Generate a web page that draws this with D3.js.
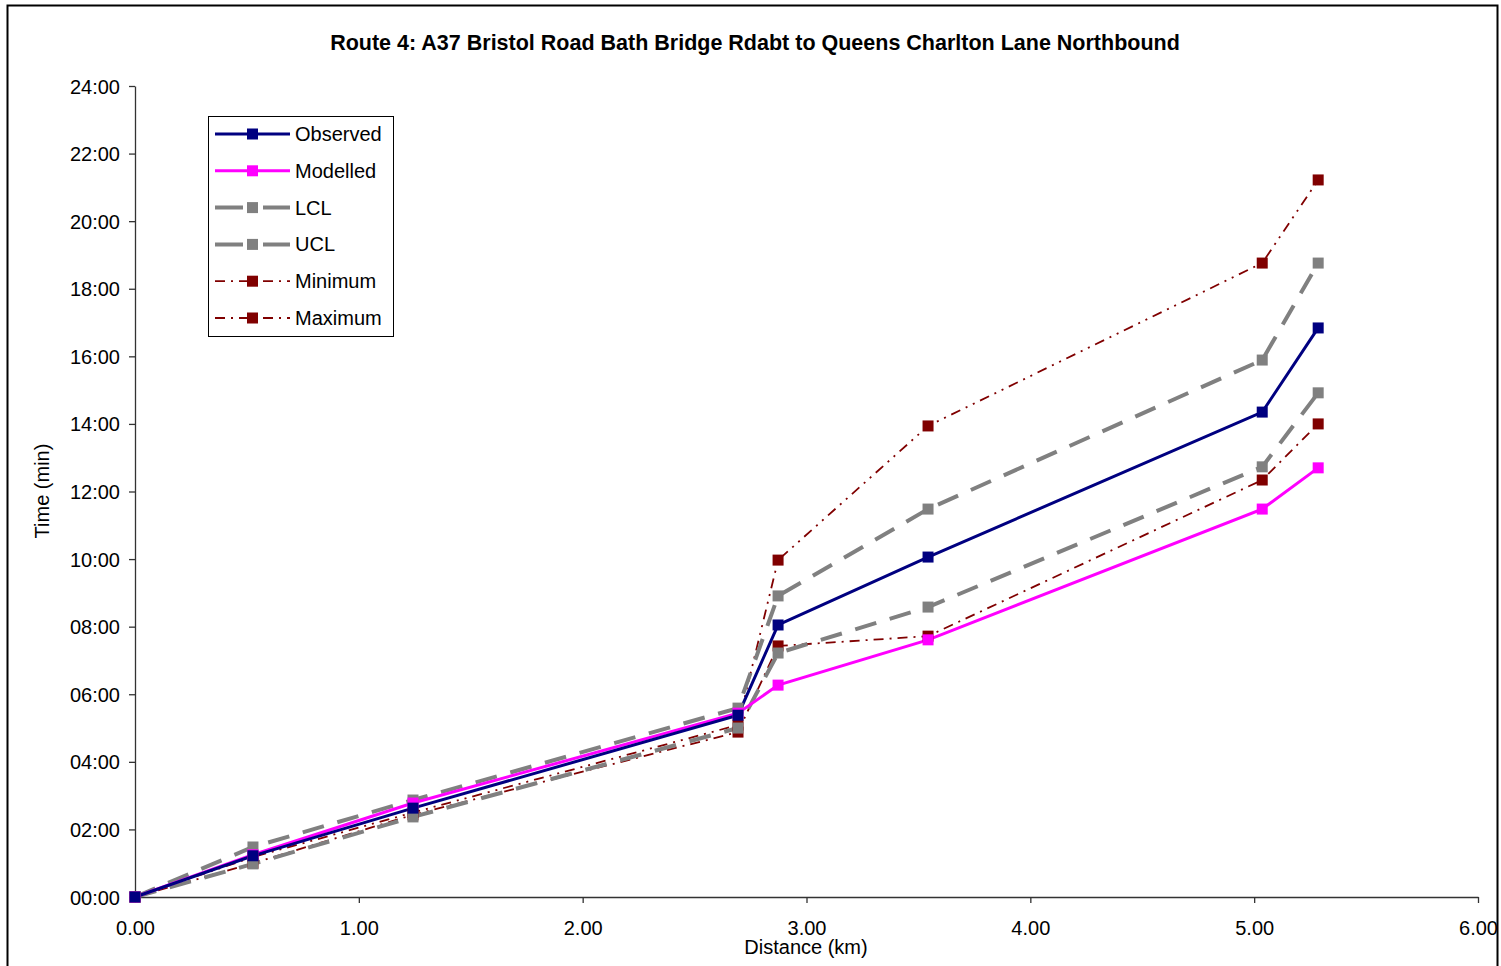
<!DOCTYPE html>
<html><head><meta charset="utf-8">
<script src="https://cdn.jsdelivr.net/npm/d3@7"></script>
<style>body{margin:0;background:#fff}svg{display:block}text{font-family:"Liberation Sans",Arial,sans-serif}</style>
</head><body><svg id="c" width="1501" height="966"></svg>
<script>
const distances = [0, 0.527, 1.242, 2.694, 2.873, 3.543, 5.036, 5.286];
const observed  = [0, 1.22, 2.63, 5.38, 8.05, 10.06, 14.35, 16.84];
const modelled  = [0, 1.25, 2.78, 5.44, 6.27, 7.61, 11.48, 12.70];
const lcl       = [0, 0.98, 2.37, 5.00, 7.22, 8.58, 12.73, 14.92];
const ucl       = [0, 1.48, 2.87, 5.59, 8.91, 11.48, 15.89, 18.76];
const minimum   = [0, 1.00, 2.43, 4.88, 7.43, 7.72, 12.34, 14.00];
const maximum   = [0, 1.18, 2.50, 5.09, 9.97, 13.94, 18.76, 21.22];
const xTicks = [0,1,2,3,4,5,6];
const yTicks = [0,2,4,6,8,10,12,14,16,18,20,22,24];
const seriesNames = ["Observed","Modelled","LCL","UCL","Minimum","Maximum"];
const title = "Route 4: A37 Bristol Road Bath Bridge Rdabt to Queens Charlton Lane Northbound";

const styles = {
  Observed:{color:"#000080",w:3,dash:null},
  Modelled:{color:"#FF00FF",w:3,dash:null},
  LCL:{color:"#808080",w:4,dash:"22,14"},
  UCL:{color:"#808080",w:4,dash:"22,14"},
  Minimum:{color:"#800000",w:1.8,dash:"10,6,2,6"},
  Maximum:{color:"#800000",w:1.8,dash:"10,6,2,6,2,6"}
};
const data = {Observed:observed,Modelled:modelled,LCL:lcl,UCL:ucl,Minimum:minimum,Maximum:maximum};
const drawOrder = ["Minimum","Maximum","LCL","UCL","Modelled","Observed"];

const svg = d3.select("#c");
svg.append("rect").attr("x",7.5).attr("y",5.5).attr("width",1490).attr("height",980)
  .attr("fill","none").attr("stroke","#000").attr("stroke-width",2);

const x = d3.scaleLinear().domain([0,6]).range([135,1478]);
const y = d3.scaleLinear().domain([0,24]).range([897,86]);
const fmt = v => String(v).padStart(2,"0")+":00";

const xa = svg.append("g").attr("transform","translate(0,897)")
  .call(d3.axisBottom(x).tickValues(xTicks).tickFormat(d3.format(".2f")).tickSize(6).tickSizeOuter(0));
const ya = svg.append("g").attr("transform","translate(135,0)")
  .call(d3.axisLeft(y).tickValues(yTicks).tickFormat(fmt).tickSize(6).tickSizeOuter(0));
[xa,ya].forEach(a=>{
  a.selectAll("path,line").attr("stroke","#333").attr("stroke-width",1.3);
  a.selectAll("text").attr("font-size",20).attr("fill","#000").attr("font-family","Liberation Sans, Arial, sans-serif");
});
xa.selectAll("text").attr("dy","1.45em");
ya.selectAll("text").attr("x",-15).attr("dy","0.35em");

svg.append("text").attr("x",755).attr("y",50).attr("text-anchor","middle")
  .attr("font-size",21.5).attr("font-weight","bold").text(title);
svg.append("text").attr("x",806).attr("y",954).attr("text-anchor","middle").attr("font-size",20).text("Distance (km)");
svg.append("text").attr("transform","translate(49,491) rotate(-90)").attr("text-anchor","middle").attr("font-size",20).text("Time (min)");

const line = d3.line().x((d,i)=>x(distances[i])).y(d=>y(d));
drawOrder.forEach(n=>{
  const s = styles[n];
  svg.append("path").datum(data[n]).attr("d",line).attr("fill","none")
    .attr("stroke",s.color).attr("stroke-width",s.w).attr("stroke-dasharray",s.dash);
});
drawOrder.forEach(n=>{
  const s = styles[n];
  svg.append("g").selectAll("rect").data(data[n]).join("rect")
    .attr("x",(d,i)=>x(distances[i])-5.5).attr("y",d=>y(d)-5.5)
    .attr("width",11).attr("height",11).attr("fill",s.color);
});

// legend
const lg = svg.append("g");
lg.append("rect").attr("x",208.5).attr("y",116.5).attr("width",185).attr("height",220)
  .attr("fill","#fff").attr("stroke","#000").attr("stroke-width",1);
seriesNames.forEach((n,i)=>{
  const s = styles[n];
  const yy = 134 + i*36.8;
  lg.append("line").attr("x1",215).attr("x2",290).attr("y1",yy).attr("y2",yy)
    .attr("stroke",s.color).attr("stroke-width",s.w)
    .attr("stroke-dasharray", (n==="LCL"||n==="UCL")? "28,6,8,6,28" : (n==="Minimum"||n==="Maximum") ? "10,6,2,6" : null);
  lg.append("rect").attr("x",247).attr("y",yy-5.5).attr("width",11).attr("height",11).attr("fill",s.color);
  lg.append("text").attr("x",295).attr("y",yy).attr("dy","0.35em").attr("font-size",20).text(n);
});
</script></body></html>
